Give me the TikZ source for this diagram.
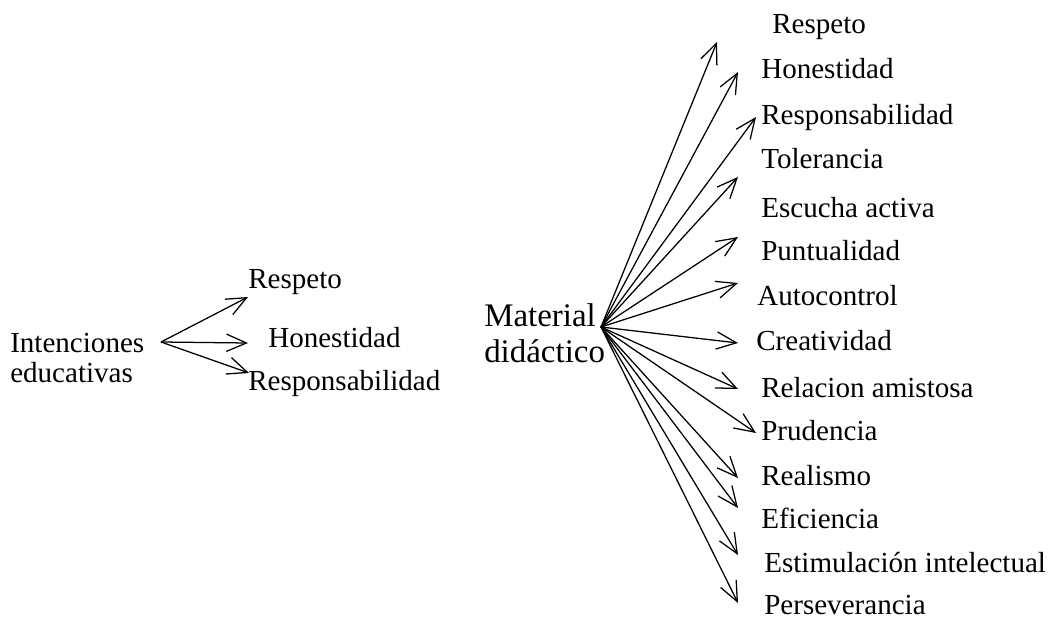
\documentclass[tikz,border=0pt]{standalone}
\usepackage{fontspec}
\setmainfont{Liberation Serif}
\usetikzlibrary{arrows.meta}
\begin{document}
\begin{tikzpicture}[x=0.75pt,y=-0.75pt,
        >={Straight Barb[length=15pt,width=13pt]},
        val/.style={anchor=base west,inner sep=0pt,font=\fontsize{21.8}{22.5}\selectfont},
        fan/.style={->,line width=0.95pt}]
    \useasboundingbox (0,0) rectangle (1048,621);

    % left part
    \node[val,align=left] (int) at (10,382) {Intenciones\\educativas};
    \coordinate (o1) at (161,342);
    \node[val] (l1) at (248,288) {Respeto};
    \node[val] (l2) at (268,347) {Honestidad};
    \node[val] (l3) at (248,390) {Responsabilidad};
    \coordinate (a1) at (248,297);
    \coordinate (a2) at (248,343);
    \coordinate (a3) at (249,373);
    \draw[fan] (o1) -- (a1);
    \draw[fan] (o1) -- (a2);
    \draw[fan] (o1) -- (a3);

    % right part
    \node[val,align=left,font=\fontsize{24.7}{26.3}\selectfont] (mat) at (484,362) {Material\\did\'actico};
    \coordinate (o2) at (601,327);
    \node[val] (r1) at (772,33) {Respeto};
    \node[val] (r2) at (761,78) {Honestidad};
    \node[val] (r3) at (761,124) {Responsabilidad};
    \node[val] (r4) at (761,168) {Tolerancia};
    \node[val] (r5) at (761,217) {Escucha activa};
    \node[val] (r6) at (761,260) {Puntualidad};
    \node[val] (r7) at (757,305) {Autocontrol};
    \node[val] (r8) at (756,350) {Creatividad};
    \node[val] (r9) at (761,397) {Relacion amistosa};
    \node[val] (r10) at (761,440) {Prudencia};
    \node[val] (r11) at (761,485) {Realismo};
    \node[val] (r12) at (761,528) {Eficiencia};
    \node[val] (r13) at (764,572) {Estimulación intelectual};
    \node[val] (r14) at (764,614) {Perseverancia};

    \coordinate (b1) at (717,42);
    \coordinate (b2) at (738,72);
    \coordinate (b3) at (756,117);
    \coordinate (b4) at (738,177);
    \coordinate (b5) at (738,237);
    \coordinate (b6) at (738,283);
    \coordinate (b7) at (738,343);
    \coordinate (b8) at (738,389);
    \coordinate (b9) at (756,433);
    \coordinate (b10) at (738,478);
    \coordinate (b11) at (738,508);
    \coordinate (b12) at (738,555);
    \coordinate (b13) at (738,603);
    \draw[fan] (o2) -- (b1);
    \draw[fan] (o2) -- (b2);
    \draw[fan] (o2) -- (b3);
    \draw[fan] (o2) -- (b4);
    \draw[fan] (o2) -- (b5);
    \draw[fan] (o2) -- (b6);
    \draw[fan] (o2) -- (b7);
    \draw[fan] (o2) -- (b8);
    \draw[fan] (o2) -- (b9);
    \draw[fan] (o2) -- (b10);
    \draw[fan] (o2) -- (b11);
    \draw[fan] (o2) -- (b12);
    \draw[fan] (o2) -- (b13);
\end{tikzpicture}
\end{document}
